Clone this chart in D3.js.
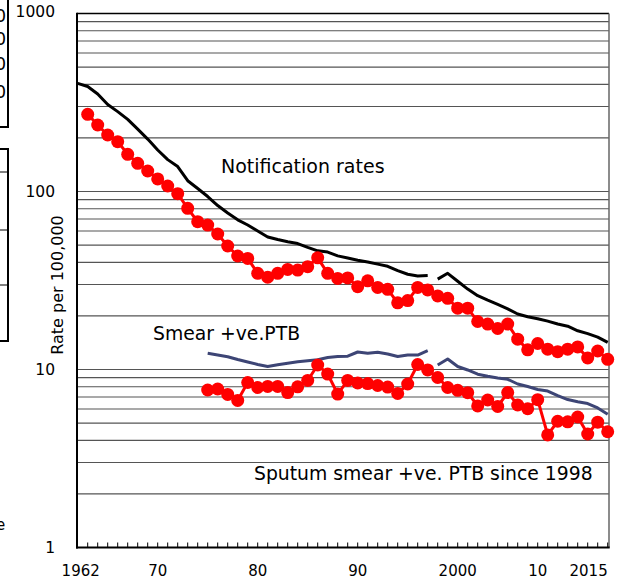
<!DOCTYPE html>
<html>
<head>
<meta charset="utf-8">
<script src="https://cdn.jsdelivr.net/npm/d3@7"></script>
<style>
body { margin: 0; background: #fff; }
text { font-family: "DejaVu Sans", Verdana, sans-serif; fill: #000; }
</style>
</head>
<body>
<div id="chart"></div>
<script>
// notification rates (black), break in 1998
var notifOldYears = d3.range(1962, 1998);
var notifOld = [405, 389, 353, 308, 281, 254, 224, 197, 171, 151, 138, 115, 104, 93.7, 83.4, 75.7,
    69.3, 64.8, 60.0, 55.5, 53.7, 52.2, 51.0, 48.5, 46.4, 45.7, 43.5, 42.3, 41.1, 40.2, 39.1, 38.0,
    35.9, 34.3, 33.5, 33.7];
var notifNewYears = d3.range(1998, 2016);
var notifNew = [32.2, 34.7, 31.3, 28.3, 26.0, 24.5, 23.2, 21.9, 20.5, 19.8, 19.3, 18.7, 18.0, 17.5,
    16.5, 15.9, 15.2, 14.2];

// smear +ve PTB (blue)
var smearOldYears = d3.range(1975, 1998);
var smearOld = [12.33, 12.06, 11.79, 11.38, 11.02, 10.67, 10.39, 10.63, 10.85, 11.05, 11.19, 11.34,
    11.68, 11.83, 11.88, 12.54, 12.33, 12.49, 12.22, 11.83, 12.06, 12.06, 12.75];
var smearNewYears = d3.range(1998, 2016);
var smearNew = [10.60, 11.45, 10.39, 9.94, 9.41, 9.16, 8.96, 8.81, 8.29, 8.03, 7.72, 7.57, 7.13, 6.78,
    6.59, 6.44, 6.08, 5.60];

// red dot series
var allYears = d3.range(1963, 2016);
var allRates = [271.5, 236.4, 207.7, 190.5, 161.8, 144.0, 130.4, 117.6, 107.4, 97.2,
    80.4, 67.7, 64.8, 57.7, 49.4, 43.4, 42.1, 34.7, 33.0, 34.7,
    36.5, 36.2, 37.8, 42.4, 34.7, 32.5, 32.7, 29.2, 31.5, 28.9,
    28.2, 23.7, 24.4, 28.9, 28.0, 25.9, 25.1, 22.1, 22.1, 18.6,
    18.0, 17.0, 18.0, 14.8, 12.9, 14.0, 13.0, 12.6, 13.0, 13.4,
    11.6, 12.7, 11.4];
var sputumYears = d3.range(1975, 2016);
var sputumRates = [7.67, 7.77, 7.24, 6.70, 8.45, 7.92, 8.03, 8.03, 7.42, 7.99,
    8.68, 10.60, 9.43, 7.28, 8.68, 8.40, 8.34, 8.13, 7.97, 7.33,
    8.29, 10.67, 9.94, 9.02, 7.92, 7.64, 7.41, 6.24, 6.74, 6.20,
    7.42, 6.32, 6.02, 6.77, 4.29, 5.12, 5.08, 5.41, 4.34, 5.06,
    4.47];

var xLabelYears = [1962, 1970, 1980, 1990, 2000, 2010, 2015];
var xLabels = ["1962", "70", "80", "90", "2000", "10", "2015"];
var yLabelValues = [1000, 100, 10, 1];

var svgW = 625, svgH = 580;
var plotLeft = 77, plotRight = 609, plotTop = 13.5, plotBottom = 547.5;

var svg = d3.select("#chart")
    .append("svg")
    .attr("width", svgW)
    .attr("height", svgH);

var x = d3.scaleLinear()
    .domain([1962, 2015.13])
    .range([plotLeft + 0.7, plotRight]);

var y = d3.scaleLog()
    .domain([1, 1000])
    .range([plotBottom, plotTop]);

function pairs(years, vals) {
    return years.map(function (yr, i) { return { year: yr, v: vals[i] }; });
}

var line = d3.line()
    .x(function (d) { return x(d.year); })
    .y(function (d) { return y(d.v); });

// bits of the neighbouring figure cut off at the left edge
var crop = svg.append("g");
crop.append("rect").attr("x", -10).attr("y", -5).attr("width", 18).attr("height", 132)
    .attr("fill", "none").attr("stroke", "#000").attr("stroke-width", 2);
crop.append("rect").attr("x", -10).attr("y", 149).attr("width", 18).attr("height", 192)
    .attr("fill", "none").attr("stroke", "#000").attr("stroke-width", 2);
[172, 230, 285].forEach(function (yy) {
    crop.append("line").attr("x1", 0).attr("x2", 8).attr("y1", yy).attr("y2", yy)
        .attr("stroke", "#000").attr("stroke-width", 1);
});
[22, 45, 70, 98].forEach(function (yy) {
    crop.append("text").attr("x", 6).attr("y", yy).attr("text-anchor", "end")
        .style("font-size", "17px").text("0");
});
crop.append("text").attr("x", -4).attr("y", 530).style("font-size", "15px").text("e");

// gridlines
svg.append("g")
    .selectAll("line")
    .data(y.ticks())
    .enter()
    .append("line")
    .attr("x1", plotLeft)
    .attr("x2", plotRight)
    .attr("y1", function (d) { return y(d); })
    .attr("y2", function (d) { return y(d); })
    .attr("stroke", function (d) { return d === 1000 ? "#000" : "#555"; })
    .attr("stroke-width", function (d) { return d === 1000 ? 1.5 : 1.1; });

// frame
svg.append("line").attr("x1", plotRight).attr("x2", plotRight).attr("y1", plotTop).attr("y2", plotBottom)
    .attr("stroke", "#666").attr("stroke-width", 1.5);
svg.append("line").attr("x1", plotLeft).attr("x2", plotLeft).attr("y1", plotTop - 0.7).attr("y2", plotBottom + 1)
    .attr("stroke", "#000").attr("stroke-width", 2);
svg.append("line").attr("x1", plotLeft - 1).attr("x2", plotRight + 0.7).attr("y1", plotBottom).attr("y2", plotBottom)
    .attr("stroke", "#000").attr("stroke-width", 2);

// year ticks, pointing inwards
svg.append("g")
    .selectAll("line")
    .data(d3.range(1963, 2016))
    .enter()
    .append("line")
    .attr("x1", function (d) { return x(d); })
    .attr("x2", function (d) { return x(d); })
    .attr("y1", plotBottom)
    .attr("y2", plotBottom - 5)
    .attr("stroke", "#000")
    .attr("stroke-width", 1);

svg.append("g")
    .selectAll("text")
    .data(xLabelYears)
    .enter()
    .append("text")
    .attr("x", function (d) { return x(d); })
    .attr("dx", function (d) { return d === 2010 ? -20 : (d === 1962 ? 3 : 0); })
    .attr("y", 576)
    .attr("text-anchor", function (d) { return d === 2015 ? "end" : "middle"; })
    .style("font-size", "15px")
    .text(function (d, i) { return xLabels[i]; });

svg.append("g")
    .selectAll("text")
    .data(yLabelValues)
    .enter()
    .append("text")
    .attr("x", 55)
    .attr("y", function (d) { return y(d); })
    .attr("dy", function (d) { return d === 1000 ? "0.2em" : "0.36em"; })
    .attr("text-anchor", "end")
    .style("font-size", "15.5px")
    .text(function (d) { return d; });

svg.append("text")
    .attr("transform", "translate(63,285) rotate(-90)")
    .attr("text-anchor", "middle")
    .style("font-size", "16px")
    .text("Rate per 100,000");

// black and blue lines, each in two pieces
[notifOld, notifNew].forEach(function (vals, i) {
    svg.append("path")
        .datum(pairs(i === 0 ? notifOldYears : notifNewYears, vals))
        .attr("fill", "none")
        .attr("stroke", "#000")
        .attr("stroke-width", 3)
        .attr("stroke-linejoin", "round")
        .attr("d", line);
});
[smearOld, smearNew].forEach(function (vals, i) {
    svg.append("path")
        .datum(pairs(i === 0 ? smearOldYears : smearNewYears, vals))
        .attr("fill", "none")
        .attr("stroke", "#3d4575")
        .attr("stroke-width", 3)
        .attr("stroke-linejoin", "round")
        .attr("d", line);
});

// red dot series
[pairs(allYears, allRates), pairs(sputumYears, sputumRates)].forEach(function (data) {
    svg.append("path")
        .datum(data)
        .attr("fill", "none")
        .attr("stroke", "#ff0000")
        .attr("stroke-width", 3)
        .attr("d", line);
    svg.append("g")
        .selectAll("circle")
        .data(data)
        .enter()
        .append("circle")
        .attr("cx", function (d) { return x(d.year); })
        .attr("cy", function (d) { return y(d.v); })
        .attr("r", 6.5)
        .attr("fill", "#ff0000");
});

svg.append("text").attr("x", 221).attr("y", 173).style("font-size", "19px").text("Notification rates");
svg.append("text").attr("x", 153).attr("y", 339.5).style("font-size", "18.8px").text("Smear +ve.PTB");
svg.append("text").attr("x", 254).attr("y", 479.5).style("font-size", "18.8px").text("Sputum smear +ve. PTB since 1998");
</script>
</body>
</html>
